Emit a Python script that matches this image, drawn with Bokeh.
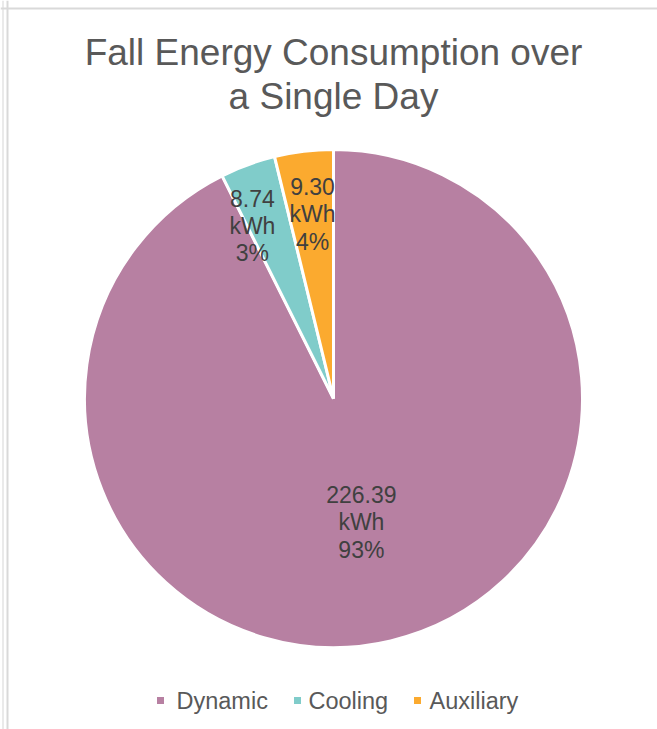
import math
from bokeh.plotting import figure
from bokeh.models import Range1d, Span, ColumnDataSource
from bokeh.core.properties import value
from bokeh.embed import file_html
from bokeh.resources import INLINE

# ---- data ----
categories = ["Dynamic", "Cooling", "Auxiliary"]
energy_kwh = [226.39, 8.74, 9.30]
percent_labels = ["93%", "3%", "4%"]
colors = ["#b780a2", "#80ccca", "#fbaa2f"]
title_lines = ["Fall Energy Consumption over", "a Single Day"]

# ---- layout ----
W, H = 657, 729
FONT = "Liberation Sans"
cx, cy, R = 333, 331, 249
label_r_frac = [0.51, 0.767, 0.744]
label_angle_shift_deg = [-0.6, 5.0, -0.35]
label_line_gap = 27.5
legend_square_x = [160, 297, 417]
legend_text_x = [176, 308, 429]
legend_y = 29

p = figure(width=W, height=H, output_backend="svg", toolbar_location=None,
           x_range=Range1d(0, W), y_range=Range1d(0, H), min_border=0)
p.axis.visible = False
p.grid.visible = False
p.outline_line_color = None
p.background_fill_color = "white"
p.border_fill_color = "white"

# chart border (left + top)
p.add_layout(Span(location=2.5, dimension="height", line_color="#e3e3e3", line_width=1.5))
p.add_layout(Span(location=7, dimension="height", line_color="#d9d9d9", line_width=2))
p.add_layout(Span(location=H - 8, dimension="width", line_color="#d9d9d9", line_width=2))

total = sum(energy_kwh)
starts, ends, mids = [], [], []
cum = 0.0
for v in energy_kwh:
    s = math.pi / 2 - cum / total * 2 * math.pi
    cum += v
    e = math.pi / 2 - cum / total * 2 * math.pi
    starts.append(s)
    ends.append(e)
    mids.append((s + e) / 2)

src = ColumnDataSource(dict(start=starts, end=ends, color=colors, name=categories))
p.wedge(x=cx, y=cy, radius=R, start_angle="start", end_angle="end", direction="clock",
        fill_color="color", line_color="white", line_width=3, source=src)

# data labels
lx, ly, lt = [], [], []
for i, v in enumerate(energy_kwh):
    a = mids[i] + math.radians(label_angle_shift_deg[i])
    ax = cx + label_r_frac[i] * R * math.cos(a)
    ay = cy + label_r_frac[i] * R * math.sin(a)
    lines = [f"{v:.2f}", "kWh", percent_labels[i]]
    for j, t in enumerate(lines):
        lx.append(ax)
        ly.append(ay + (1 - j) * label_line_gap)
        lt.append(t)
p.text(x=lx, y=ly, text=lt, text_font=value(FONT), text_font_size="23px",
       text_color="#404040", text_align="center", text_baseline="middle")

# title
p.text(x=[333, 333], y=[H - 52, H - 96], text=title_lines, text_font=value(FONT),
       text_font_size="37px", text_color="#595959", text_align="center",
       text_baseline="alphabetic")

# legend
p.scatter(x=legend_square_x, y=[legend_y] * 3, marker="square", size=7,
          fill_color=colors, line_color=None)
p.text(x=legend_text_x, y=[legend_y] * 3, text=categories, text_font=value(FONT),
       text_font_size="23.5px", text_color="#595959", text_align="left",
       text_baseline="middle")

open("out.html", "w").write(file_html(p, INLINE))
